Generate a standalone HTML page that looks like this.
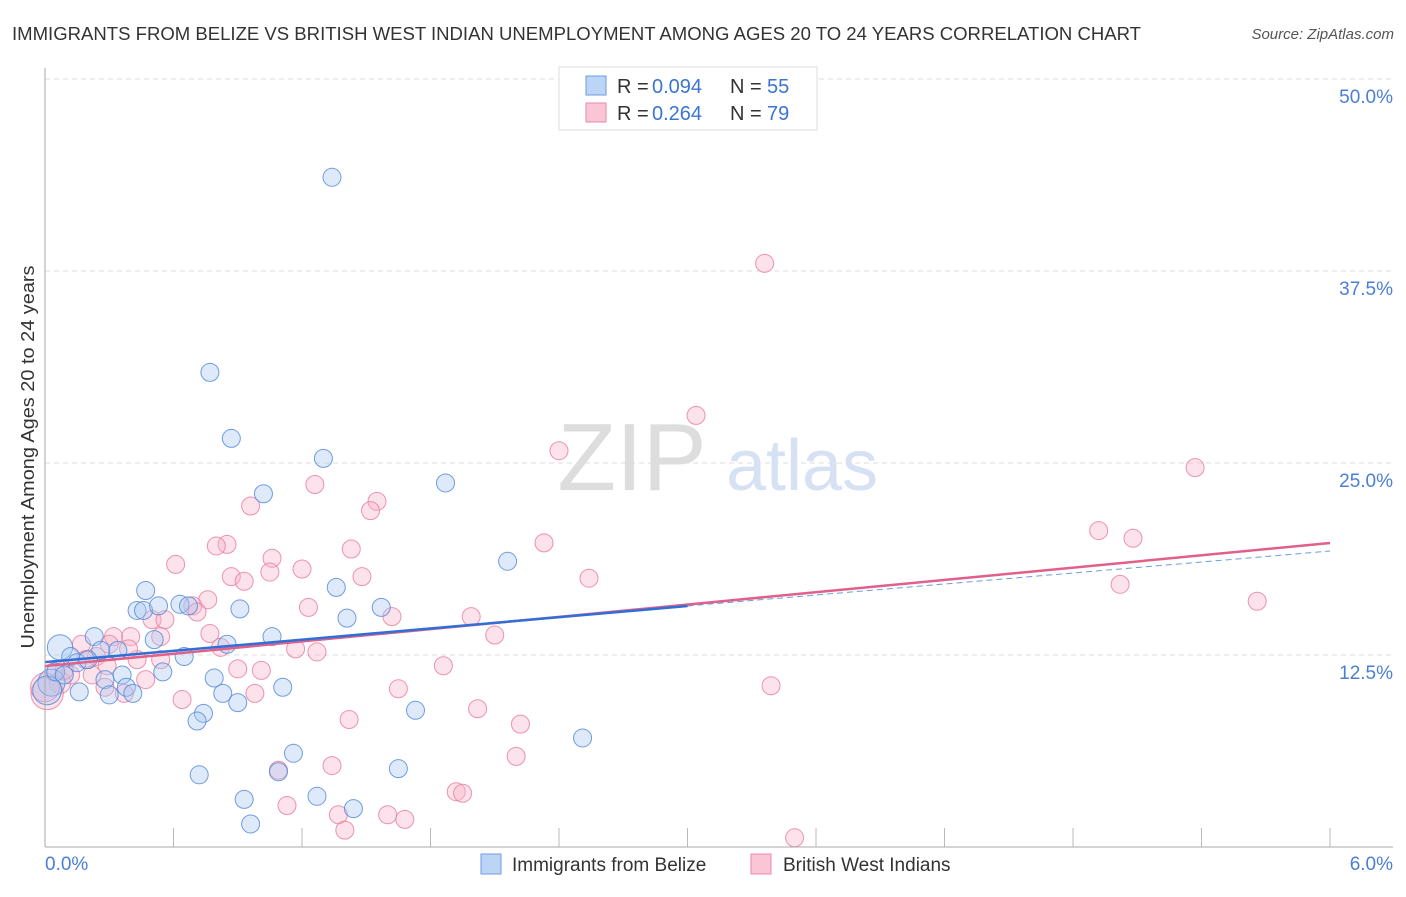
<!DOCTYPE html>
<html><head><meta charset="utf-8"><style>
body{margin:0;background:#fff;font-family:"Liberation Sans",sans-serif;}
svg text{font-family:"Liberation Sans",sans-serif;}
</style></head><body>
<svg id="chart" width="1406" height="892">
<text x="12" y="40" font-size="18" fill="#333" textLength="1129" lengthAdjust="spacingAndGlyphs">IMMIGRANTS FROM BELIZE VS BRITISH WEST INDIAN UNEMPLOYMENT AMONG AGES 20 TO 24 YEARS CORRELATION CHART</text>
<text x="1394" y="39" font-size="15" fill="#555" text-anchor="end" font-style="italic">Source: ZipAtlas.com</text>
<g id="grid"></g>
<g><text x="632" y="490" font-size="96" fill="#ddd" font-family="Liberation Serif,serif" text-anchor="middle">ZIP</text><text x="802" y="490" font-size="72" fill="#d6e2f4" text-anchor="middle">atlas</text></g>
<g id="marks"></g>
<line x1="45" y1="68" x2="45" y2="847" stroke="#aaa"/>
<line x1="45" y1="847" x2="1393" y2="847" stroke="#aaa"/>
<text transform="translate(34,457) rotate(-90)" font-size="18" fill="#333" text-anchor="middle" textLength="383" lengthAdjust="spacingAndGlyphs">Unemployment Among Ages 20 to 24 years</text>
<text x="45" y="870" font-size="19" fill="#4a7fd4">0.0%</text>
<text x="1393" y="870" font-size="19" fill="#4a7fd4" text-anchor="end">6.0%</text>
<g>
<rect x="559" y="67" width="258" height="63" fill="#fff" stroke="#ddd"/>
<rect x="586" y="76" width="20" height="19" fill="#bcd4f6" stroke="#6b9de0"/>
<rect x="586" y="103" width="20" height="19" fill="#fac6d6" stroke="#e88aa8"/>
<text x="617" y="93" font-size="20" fill="#333">R = </text><text x="652" y="93" font-size="20" fill="#3b75d0">0.094</text>
<text x="730" y="93" font-size="20" fill="#333">N = </text><text x="767" y="93" font-size="20" fill="#3b75d0">55</text>
<text x="617" y="120" font-size="20" fill="#333">R = </text><text x="652" y="120" font-size="20" fill="#3b75d0">0.264</text>
<text x="730" y="120" font-size="20" fill="#333">N = </text><text x="767" y="120" font-size="20" fill="#3b75d0">79</text>
</g>
<g>
<rect x="481" y="854" width="20" height="20" fill="#bcd4f6" stroke="#6b9de0"/>
<text x="512" y="871" font-size="19" fill="#333">Immigrants from Belize</text>
<rect x="751" y="854" width="20" height="20" fill="#fac6d6" stroke="#e88aa8"/>
<text x="783" y="871" font-size="19" fill="#333">British West Indians</text>
</g>
</svg>
<script>
const yTicks=[12.5,25,37.5,50];
const yTickLabels=["12.5%","25.0%","37.5%","50.0%"];
const xTicks=[0,0.6,1.2,1.8,2.4,3.0,3.6,4.2,4.8,5.4,6.0];
const belizeX=[1.34,0.77,0.87,1.30,1.02,1.87,2.16,0.47,1.36,0.43,0.46,0.53,0.63,0.67,0.91,1.57,1.41,0.23,0.51,1.06,0.85,0.07,0.12,0.26,0.34,0.65,0.15,0.20,0.36,0.55,0.79,0.28,0.38,0.16,0.30,0.41,0.83,0.90,1.11,0.74,0.71,1.73,2.51,1.16,0.72,1.09,1.65,1.27,0.93,1.44,0.96,0.03,0.01,0.05,0.09];
const belizeY=[43.6,30.9,26.6,25.3,23.0,23.7,18.6,16.7,16.9,15.4,15.4,15.7,15.8,15.7,15.5,15.6,14.9,13.7,13.5,13.7,13.2,13.0,12.4,12.8,12.8,12.4,12.0,12.2,11.2,11.4,11.0,10.9,10.4,10.1,9.9,10.0,10.0,9.4,10.4,8.7,8.2,8.9,7.1,6.1,4.7,4.9,5.1,3.3,3.1,2.5,1.5,10.7,10.2,11.4,11.2];
const belizeSize=[1,1,1,1,1,1,1,1,1,1,1,1,1,1,1,1,1,1,1,1,1,1.4,1,1,1,1,1,1,1,1,1,1,1,1,1,1,1,1,1,1,1,1,1,1,1,1,1,1,1,1,1,1.5,1.6,1,1];
const bwiX=[3.36,3.04,2.40,5.37,1.26,1.55,0.96,1.52,4.92,5.08,2.33,0.85,0.80,1.43,0.61,1.06,1.05,1.20,0.87,1.48,2.54,0.93,5.02,5.66,0.76,0.69,0.71,1.23,1.99,0.50,0.56,1.62,0.32,0.40,0.54,2.10,0.17,0.77,0.24,0.43,0.54,0.82,1.17,1.27,0.39,0.29,0.22,0.47,0.90,1.01,1.86,3.39,1.65,0.37,0.64,0.98,2.02,1.42,2.22,2.20,1.09,1.34,1.13,1.92,1.95,1.37,1.60,1.68,1.40,3.50,0.04,0.07,0.01,0.00,0.12,0.28,0.19,0.09,0.30];
const bwiY=[38.0,28.1,25.8,24.7,23.6,22.5,22.2,21.9,20.6,20.1,19.8,19.7,19.6,19.4,18.4,18.8,17.9,18.1,17.6,17.6,17.5,17.3,17.1,16.0,16.1,15.7,15.3,15.6,15.0,14.8,14.8,15.0,13.7,13.7,13.7,13.8,13.2,13.9,12.4,12.2,12.2,13.0,12.9,12.7,12.9,11.8,11.2,10.9,11.6,11.5,11.8,10.5,10.3,10.0,9.6,10.0,9.0,8.3,8.0,5.9,5.0,5.3,2.7,3.6,3.5,2.1,2.1,1.8,1.1,0.6,11.4,10.7,10.0,10.4,11.2,10.4,12.2,11.5,13.2];
const bwiSize=[1,1,1,1,1,1,1,1,1,1,1,1,1,1,1,1,1,1,1,1,1,1,1,1,1,1,1,1,1,1,1,1,1,1,1,1,1,1,1,1,1,1,1,1,1,1,1,1,1,1,1,1,1,1,1,1,1,1,1,1,1,1,1,1,1,1,1,1,1,1,1,1.2,1.8,1.6,1,1,1,1,1];
const belizeTrend=[12.04,15.69,19.27]; // at x=0,3,6
const bwiTrend=[11.78,19.79]; // at x=0,6
const NS="http://www.w3.org/2000/svg";
const X=v=>45+v*214.17, Y=v=>847-v*15.36;
function mk(tag,attrs,parent){const e=document.createElementNS(NS,tag);for(const k in attrs)e.setAttribute(k,attrs[k]);parent.appendChild(e);return e;}
const grid=document.getElementById('grid'), marks=document.getElementById('marks'), svg=document.getElementById('chart');
yTicks.forEach((t,i)=>{
 const l=mk('line',{x1:45,x2:1393,y1:Y(t),y2:Y(t),stroke:'#ddd','stroke-dasharray':'5,4'},grid);
 
 
 const tx=mk('text',{x:1393,y:Y(t)+24,'font-size':19,fill:'#4a7fd4','text-anchor':'end'},svg);
 tx.textContent=yTickLabels[i];
 
 
});
xTicks.forEach(t=>{
 const l=mk('line',{x1:X(t),x2:X(t),y1:828,y2:847,stroke:'#bbb'},grid);
 
 
});
function dots(xs,ys,ss,fill,stroke,name){
 xs.forEach((x,i)=>{
  const c=mk('circle',{cx:X(x),cy:Y(ys[i]),r:9*ss[i],fill:fill,'fill-opacity':0.38,stroke:stroke,'stroke-opacity':0.8,'stroke-width':1},marks);
  
  
 });
}
dots(bwiX,bwiY,bwiSize,'#f8b4c8','#e87b9c','bwi-point');
dots(belizeX,belizeY,belizeSize,'#a9c8f2','#4f86d8','belize-point');
let t=mk('line',{x1:X(0),y1:Y(bwiTrend[0]),x2:X(6),y2:Y(bwiTrend[1]),stroke:'#e0608a','stroke-width':2.5},marks);


t=mk('line',{x1:X(0),y1:Y(belizeTrend[0]),x2:X(3),y2:Y(belizeTrend[1]),stroke:'#2f6fd6','stroke-width':2.5},marks);


t=mk('line',{x1:X(3),y1:Y(belizeTrend[1]),x2:X(6),y2:Y(belizeTrend[2]),stroke:'#6b9de0','stroke-width':1,'stroke-dasharray':'6,4'},marks);


</script>
</body></html>
